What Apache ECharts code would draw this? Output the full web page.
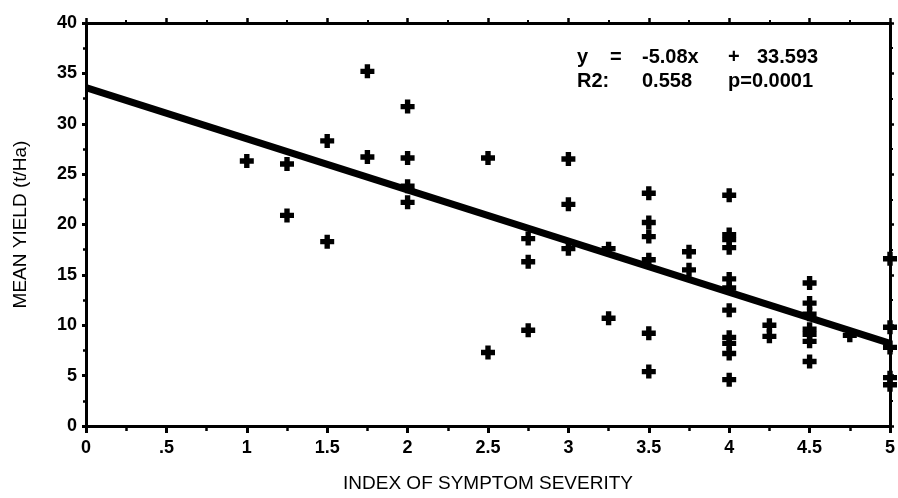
<!DOCTYPE html>
<html>
<head>
<meta charset="utf-8">
<script src="https://cdn.jsdelivr.net/npm/echarts@6/dist/echarts.min.js"></script>
<style>
html,body{margin:0;padding:0;background:#fff;}
#chart{width:898px;height:498px;}
</style>
</head>
<body>
<div id="chart"></div>
<script>
// Severity index (x) and mean yield (y) for each observation
const severity = [
  1,
  1.25, 1.25,
  1.5, 1.5,
  1.75, 1.75,
  2, 2, 2, 2,
  2.5, 2.5,
  2.75, 2.75, 2.75,
  3, 3, 3,
  3.25, 3.25,
  3.5, 3.5, 3.5, 3.5, 3.5, 3.5,
  3.75, 3.75,
  4, 4, 4, 4, 4, 4, 4, 4, 4, 4, 4,
  4.25, 4.25,
  4.5, 4.5, 4.5, 4.5, 4.5, 4.5, 4.5,
  4.75,
  5, 5, 5, 5, 5
];
const yieldVals = [
  26.3,
  26.0, 20.9,
  28.3, 18.3,
  35.2, 26.7,
  31.7, 26.6, 23.8, 22.2,
  26.6, 7.3,
  18.6, 16.3, 9.5,
  26.5, 22.0, 17.6,
  17.6, 10.7,
  23.1, 20.2, 18.8, 16.5, 9.2, 5.4,
  17.3, 15.5,
  22.9, 19.0, 18.5, 17.7, 14.6, 13.7, 11.5, 8.8, 8.2, 7.2, 4.6,
  10.0, 8.9,
  14.2, 12.2, 11.1, 9.6, 9.1, 8.4, 6.4,
  9.0,
  16.6, 9.8, 7.8, 4.8, 4.1
];
// Regression stated on the chart
const slope = -5.08;
const intercept = 33.593;
const lineX = [0, 5];
const xTickLabels = ['0', '.5', '1', '1.5', '2', '2.5', '3', '3.5', '4', '4.5', '5'];
const yTickLabels = ['0', '5', '10', '15', '20', '25', '30', '35', '40'];
const eqLine1 = ['y', '=', '-5.08x', '+', '33.593'];
const eqLine2 = ['R2:', '0.558', 'p=0.0001'];

const points = severity.map((x, i) => [x, yieldVals[i]]);
const regLine = lineX.map(x => [x, slope * x + intercept]);

const FONT = 'Liberation Sans';
const axisLineStyle = { color: '#000', width: 3 };

const chart = echarts.init(document.getElementById('chart'), null, { renderer: 'canvas' });

const eqX1 = [577, 610, 642, 728, 757];
const eqX2 = [577, 642, 728];
const eqTextStyle = { fontFamily: FONT, fontSize: 20, fontWeight: 'bold', color: '#000' };
const titles = [];
eqLine1.forEach((t, i) => titles.push({
  text: t, left: eqX1[i], top: 47, padding: 0, textStyle: eqTextStyle
}));
eqLine2.forEach((t, i) => titles.push({
  text: t, left: eqX2[i], top: 71, padding: 0, textStyle: eqTextStyle
}));

chart.setOption({
  backgroundColor: '#fff',
  animation: false,
  title: titles,
  grid: { left: 86, right: 5, top: 23, bottom: 68, containLabel: false },
  xAxis: [
    {
      type: 'value', position: 'bottom', min: 0, max: 5, interval: 0.5,
      name: 'INDEX OF SYMPTOM SEVERITY', nameLocation: 'middle', nameGap: 48,
      nameTextStyle: { fontFamily: FONT, fontSize: 19, color: '#000' },
      axisLine: { show: true, onZero: false, lineStyle: axisLineStyle },
      axisTick: { show: true, inside: false, length: 7, lineStyle: { color: '#000', width: 3 } },
      minorTick: { show: true, splitNumber: 2, length: 5, lineStyle: { color: '#000', width: 2.5 } },
      axisLabel: {
        fontFamily: FONT, fontSize: 18, fontWeight: 'bold', color: '#000', margin: 13,
        formatter: v => xTickLabels[Math.round(v * 2)]
      },
      splitLine: { show: false }
    },
    {
      type: 'value', position: 'top', min: 0, max: 5, interval: 0.5,
      axisLine: { show: true, onZero: false, lineStyle: axisLineStyle },
      axisTick: { show: true, inside: false, length: 5, lineStyle: { color: '#000', width: 2.5 } },
      minorTick: { show: true, splitNumber: 2, length: 3, lineStyle: { color: '#000', width: 2 } },
      axisLabel: { show: false },
      splitLine: { show: false }
    }
  ],
  yAxis: [
    {
      type: 'value', position: 'left', min: 0, max: 40, interval: 5,
      name: 'MEAN YIELD (t/Ha)', nameLocation: 'middle', nameGap: 56,
      nameTextStyle: { fontFamily: FONT, fontSize: 19, color: '#000' },
      axisLine: { show: true, onZero: false, lineStyle: axisLineStyle },
      axisTick: { show: true, inside: false, length: 4, lineStyle: { color: '#000', width: 3 } },
      minorTick: { show: true, splitNumber: 2, length: 3, lineStyle: { color: '#000', width: 2.5 } },
      axisLabel: {
        fontFamily: FONT, fontSize: 18, fontWeight: 'bold', color: '#000', margin: 9,
        formatter: v => yTickLabels[Math.round(v / 5)]
      },
      splitLine: { show: false }
    },
    {
      type: 'value', position: 'right', min: 0, max: 40, interval: 5,
      axisLine: { show: true, onZero: false, lineStyle: axisLineStyle },
      axisTick: { show: true, inside: false, length: 4, lineStyle: { color: '#000', width: 2.5 } },
      minorTick: { show: true, splitNumber: 2, length: 3, lineStyle: { color: '#000', width: 2 } },
      axisLabel: { show: false },
      splitLine: { show: false }
    }
  ],
  series: [
    {
      type: 'line', xAxisIndex: 0, yAxisIndex: 0,
      data: regLine, symbol: 'none', silent: true,
      lineStyle: { color: '#000', width: 7 }, z: 2
    },
    {
      type: 'scatter', xAxisIndex: 0, yAxisIndex: 0,
      data: points, clip: false,
      symbol: 'path://M4,0H9V4H13V9H9V13H4V9H0V4H4Z',
      symbolSize: 14,
      itemStyle: { color: '#000', opacity: 1 }, z: 3
    }
  ]
});
</script>
</body>
</html>
